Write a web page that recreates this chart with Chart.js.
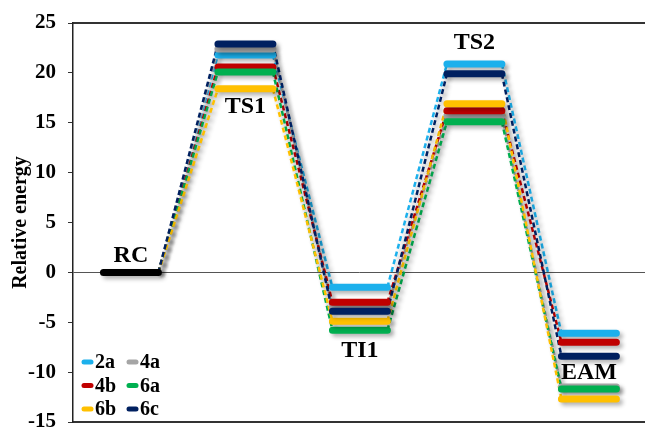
<!DOCTYPE html>
<html lang="en">
<head>
  <meta charset="UTF-8">
  <title>Relative energy profile</title>
  <script src="https://cdn.jsdelivr.net/npm/chart.js"></script>
  <style>
    body { margin: 0; background: #fff; }
    .wrap { width: 645px; height: 430px; position: relative; }
  </style>
</head>
<body>
  <div class="wrap"><canvas id="energyChart"></canvas></div>

  <script>
    // stages along the reaction path
    const stages = ['RC', 'TS1', 'TI1', 'TS2', 'EAM'];
    const seriesNames = ['2a', '4a', '4b', '6a', '6b', '6c'];
    const seriesColors = ['#1cb0ec', '#a5a5a5', '#c00000', '#00b050', '#ffc000', '#002060'];

    // relative energies, one value per stage
    const e2a = [0, 21.8, -1.5, 20.9, -6.1];
    const e4a = [0, 22.4, -3.5, 15.7, -11.5];
    const e4b = [0, 20.6, -3.0, 16.2, -7.0];
    const e6a = [0, 20.1, -5.8, 15.1, -11.7];
    const e6b = [0, 18.4, -4.9, 16.9, -12.7];
    const e6c = [0, 22.9, -3.9, 19.9, -8.4];
    const rcEnergy = [0];

    const yTicks = { min: -15, max: 25, step: 2.5, labelEvery: 5 };

    const allSeries = [e2a, e4a, e4b, e6a, e6b, e6c];
    const barLen = 0.48;
    const serif = '"Liberation Serif", "Times New Roman", serif';

    function barPoints(vals, from) {
      const pts = [];
      for (let i = from; i < vals.length; i++) {
        pts.push({ x: i, y: vals[i] }, { x: i + barLen, y: vals[i] });
        if (i < vals.length - 1) pts.push({ x: i + 0.7, y: null });
      }
      return pts;
    }

    function linkPoints(vals) {
      const pts = [];
      for (let i = 0; i < vals.length - 1; i++) {
        pts.push({ x: i + barLen, y: vals[i] }, { x: i + 1, y: vals[i + 1] }, { x: i + 1.2, y: null });
      }
      return pts;
    }

    const datasets = [];
    allSeries.forEach((vals, k) => {
      datasets.push({
        label: seriesNames[k] + ' link',
        data: linkPoints(vals),
        borderColor: seriesColors[k],
        borderWidth: 2.5,
        borderDash: [5, 3],
        order: 30 - k
      });
      datasets.push({
        label: seriesNames[k],
        data: barPoints(vals, 1),
        borderColor: seriesColors[k],
        borderWidth: 7,
        borderCapStyle: 'round',
        order: 12 - k
      });
    });
    datasets.push({
      label: 'RC',
      data: barPoints(rcEnergy, 0),
      borderColor: '#000',
      borderWidth: 7,
      borderCapStyle: 'round',
      order: 0
    });

    const shadowPlugin = {
      id: 'softShadow',
      beforeDatasetsDraw(chart) {
        const c = chart.ctx;
        c.save();
        c.shadowColor = 'rgba(0,0,0,0.3)';
        c.shadowBlur = 4;
        c.shadowOffsetX = 3;
        c.shadowOffsetY = 3;
      },
      afterDatasetsDraw(chart) {
        chart.ctx.restore();
      }
    };

    // where each stage name sits, in energy units
    const stageLabelAt = [1.7, 16.6, -7.9, 23.0, -10.1];

    const labelPlugin = {
      id: 'stageLabels',
      afterDraw(chart) {
        const { ctx, chartArea, scales: { x, y } } = chart;
        ctx.save();
        ctx.fillStyle = '#000';
        ctx.textBaseline = 'middle';
        ctx.font = 'bold 24px ' + serif;
        ctx.textAlign = 'center';
        stages.forEach((s, i) => {
          ctx.fillText(s, x.getPixelForValue(i + barLen / 2), y.getPixelForValue(stageLabelAt[i]));
        });

        // legend: 2 columns x 3 rows in lower left corner
        ctx.font = 'bold 20px ' + serif;
        ctx.textAlign = 'left';
        ctx.lineCap = 'round';
        ctx.lineWidth = 5;
        seriesNames.forEach((name, k) => {
          const col = k % 2, row = Math.floor(k / 2);
          const lx = chartArea.left + 11 + col * 45;
          const ly = chartArea.bottom - 60 + row * 23.5;
          ctx.strokeStyle = seriesColors[k];
          ctx.beginPath();
          ctx.moveTo(lx, ly);
          ctx.lineTo(lx + 7, ly);
          ctx.stroke();
          ctx.fillText(name, lx + 11, ly + 1);
        });
        ctx.restore();
      }
    };

    const edgeAxis = pos => ({
      type: 'linear',
      position: pos,
      min: -0.266,
      max: 4.73,
      ticks: { display: false },
      grid: { display: false, drawTicks: false },
      border: { display: true, color: '#333', width: 2 },
      afterFit(scale) { scale.height = 0; }
    });

    new Chart(document.getElementById('energyChart'), {
      type: 'line',
      data: { datasets },
      options: {
        responsive: true,
        maintainAspectRatio: false,
        animation: false,
        elements: { point: { radius: 0, hoverRadius: 0 }, line: { tension: 0, fill: false } },
        layout: { autoPadding: false, padding: { top: 23, bottom: 8, left: 0, right: 0 } },
        plugins: { legend: { display: false }, tooltip: { enabled: false } },
        scales: {
          x: edgeAxis('bottom'),
          xTop: edgeAxis('top'),
          y: {
            min: yTicks.min,
            max: yTicks.max,
            ticks: {
              stepSize: yTicks.step,
              color: '#000',
              padding: 12,
              font: { family: serif, size: 21, weight: 'bold' },
              callback: v => (v % yTicks.labelEvery === 0 ? v : '')
            },
            grid: {
              color: c => (c.tick && c.tick.value === 0 ? '#555' : 'transparent'),
              tickColor: '#333',
              tickLength: 5,
              lineWidth: 1
            },
            border: { color: '#222', width: 1.5 },
            title: {
              display: true,
              text: 'Relative energy',
              color: '#000',
              font: { family: serif, size: 20, weight: 'bold' },
              padding: { top: 9, bottom: 0 }
            },
            afterFit(scale) {
              scale.width = 73;
              scale.paddingTop = 0;
              scale.paddingBottom = 0;
            }
          }
        }
      },
      plugins: [shadowPlugin, labelPlugin]
    });
  </script>
</body>
</html>
